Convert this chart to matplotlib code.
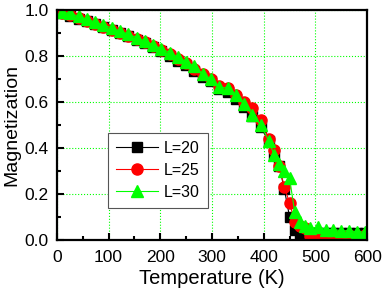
import numpy as np
import matplotlib.pyplot as plt
from matplotlib.ticker import MultipleLocator

plt.rcParams['font.family'] = ['Liberation Sans', 'DejaVu Sans']

temps = [10, 26, 42, 58, 74, 90, 106, 122, 138, 154, 170, 186, 202, 218, 234,
         250, 266, 282, 298, 314, 330, 346, 362, 378, 394, 410, 420, 430, 440,
         450, 460, 470, 480, 490, 505, 520, 535, 550, 565, 580, 595]

m_l20 = [0.985, 0.975, 0.962, 0.95, 0.937, 0.925, 0.912, 0.898, 0.885, 0.87,
         0.855, 0.838, 0.82, 0.8, 0.78, 0.76, 0.735, 0.71, 0.69, 0.655, 0.645,
         0.615, 0.58, 0.54, 0.49, 0.43, 0.37, 0.32, 0.22, 0.10, 0.045, 0.01,
         0.012, 0.02, 0.03, 0.03, 0.03, 0.028, 0.03, 0.028, 0.03]

m_l25 = [0.988, 0.978, 0.966, 0.953, 0.94, 0.928, 0.915, 0.902, 0.888, 0.874,
         0.859, 0.843, 0.826, 0.808, 0.788, 0.768, 0.745, 0.72, 0.7, 0.67,
         0.66, 0.63, 0.6, 0.575, 0.52, 0.44, 0.39, 0.32, 0.23, 0.16, 0.08,
         0.06, 0.05, 0.015, 0.013, 0.02, 0.02, 0.018, 0.02, 0.018, 0.02]

m_l30 = [0.99, 0.985, 0.972, 0.96, 0.947, 0.935, 0.922, 0.908, 0.895, 0.88,
         0.865, 0.848, 0.832, 0.815, 0.795, 0.775, 0.755, 0.72, 0.70, 0.665,
         0.66, 0.63, 0.59, 0.545, 0.50, 0.43, 0.37, 0.33, 0.30, 0.27, 0.12,
         0.08, 0.06, 0.05, 0.057, 0.045, 0.045, 0.04, 0.04, 0.035, 0.035]

fig = plt.figure(figsize=(3.82, 2.94), dpi=100)
ax = fig.add_axes([0.149, 0.184, 0.812, 0.782])

ax.plot(temps, m_l20, color='black', marker='s', ms=7, lw=0.8, label='L=20')
ax.plot(temps, m_l25, color='red', marker='o', ms=8, lw=0.8, label='L=25')
ax.plot(temps, m_l30, color='#00ff00', marker='^', ms=8.5, lw=0.8, label='L=30')

ax.set_xlim(0, 600)
ax.set_ylim(0, 1.0)
ax.xaxis.set_major_locator(MultipleLocator(100))
ax.xaxis.set_minor_locator(MultipleLocator(50))
ax.yaxis.set_major_locator(MultipleLocator(0.2))
ax.yaxis.set_minor_locator(MultipleLocator(0.1))
ax.yaxis.set_major_formatter(plt.FormatStrFormatter('%.1f'))
ax.tick_params(which='both', direction='in', width=1.5, labelsize=12.5)
ax.tick_params(which='major', length=5)
ax.tick_params(which='minor', length=3)
ax.tick_params(axis='x', pad=7)
ax.tick_params(axis='y', pad=6)
ax.grid(True, which='major', color='#00ff00', ls=':', lw=0.8)
ax.set_axisbelow(True)
for sp in ax.spines.values():
    sp.set_linewidth(1.6)

ax.set_xlabel('Temperature (K)', fontsize=14.5, labelpad=3)
ax.set_ylabel('Magnetization', fontsize=14, labelpad=3)

leg = ax.legend(loc='lower left', bbox_to_anchor=(0.165, 0.139), fontsize=11.5,
                fancybox=False, edgecolor='#555555', framealpha=1,
                borderaxespad=0, handlelength=2.6, handletextpad=0.4,
                borderpad=0.5, labelspacing=0.45)
leg.get_frame().set_linewidth(0.8)

fig.savefig('out.png', dpi=100)
